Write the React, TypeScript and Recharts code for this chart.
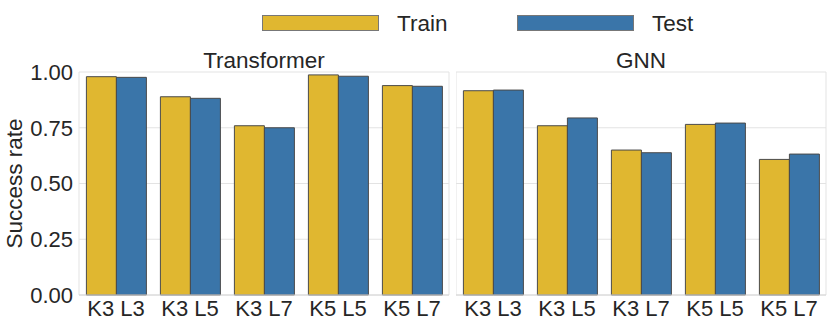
import { BarChart, Bar, XAxis, YAxis, CartesianGrid } from "recharts";

const categories = ["K3 L3", "K3 L5", "K3 L7", "K5 L5", "K5 L7"];
const transformerTrain = [0.979, 0.889, 0.759, 0.987, 0.939];
const transformerTest = [0.976, 0.882, 0.75, 0.981, 0.936];
const gnnTrain = [0.916, 0.759, 0.65, 0.765, 0.608];
const gnnTest = [0.919, 0.794, 0.638, 0.771, 0.632];
const yTicks = [0, 0.25, 0.5, 0.75, 1];
const seriesNames = ["Train", "Test"];
const panelTitles = ["Transformer", "GNN"];

const FONT = "'Liberation Sans', Arial, Helvetica, sans-serif";
const TEXT = "#262626";
const colors = ["#E0B730", "#3A75A9"];
const EDGE = "#4a4a4a";
const GRID = "#e3e3e3";

const buildRows = (train: number[], test: number[]) =>
  categories.map((name, i) => ({ name, Train: train[i], Test: test[i] }));

// left and right spines of each panel
const edges = ({ offset }: any) => [offset.left, offset.left + offset.width];

function Panel({ data, showY, left, width, right }: any) {
  return (
    <div style={{ position: "absolute", left, top: 0 }}>
      <BarChart
        width={width}
        height={327}
        data={data}
        margin={{ top: 72, right, bottom: 0, left: 0 }}
        barGap={0}
        barCategoryGap="10%"
      >
        <CartesianGrid stroke={GRID} fill="none" verticalCoordinatesGenerator={edges} />
        <XAxis
          dataKey="name"
          interval={0}
          tickLine={false}
          axisLine={{ stroke: "#d6d6d6" }}
          tick={{ fontSize: 22, fill: TEXT, fontFamily: FONT }}
          tickSize={3}
          tickMargin={2}
          height={32}
        />
        <YAxis
          hide={!showY}
          width={79}
          domain={[0, 1]}
          ticks={yTicks}
          tickFormatter={(v: number) => v.toFixed(2)}
          tickLine={false}
          axisLine={false}
          tickSize={6}
          tickMargin={0}
          tick={{ fontSize: 22, fill: TEXT, fontFamily: FONT }}
          label={
            showY
              ? {
                  value: "Success rate",
                  angle: -90,
                  position: "insideLeft",
                  offset: 14,
                  fontSize: 22.5,
                  fill: TEXT,
                  fontFamily: FONT,
                  textAnchor: "middle",
                }
              : undefined
          }
        />
        {seriesNames.map((s, i) => (
          <Bar key={s} dataKey={s} fill={colors[i]} stroke={EDGE} strokeWidth={1} isAnimationActive={false} />
        ))}
      </BarChart>
    </div>
  );
}

export default function App() {
  const legendX = [262, 517];
  return (
    <div style={{ position: "absolute", left: 0, top: 0, width: 831, height: 327, background: "#fff", fontFamily: FONT }}>
      <Panel data={buildRows(transformerTrain, transformerTest)} showY left={0} width={452} right={3} />
      <Panel data={buildRows(gnnTrain, gnnTest)} showY={false} left={456} width={375} right={5} />
      <svg width={831} height={80} style={{ position: "absolute", left: 0, top: 0 }}>
        {seriesNames.map((s, i) => (
          <g key={s}>
            <rect x={legendX[i] + 0.5} y={15.5} width={116} height={15} fill={colors[i]} stroke="#777" strokeWidth={1} />
            <text x={legendX[i] + 135} y={31} fontSize={22.5} fill={TEXT} fontFamily={FONT}>
              {s}
            </text>
          </g>
        ))}
        {panelTitles.map((t, i) => (
          <text key={t} x={[264, 641][i]} y={67.5} fontSize={22.5} fill={TEXT} fontFamily={FONT} textAnchor="middle">
            {t}
          </text>
        ))}
      </svg>
    </div>
  );
}
